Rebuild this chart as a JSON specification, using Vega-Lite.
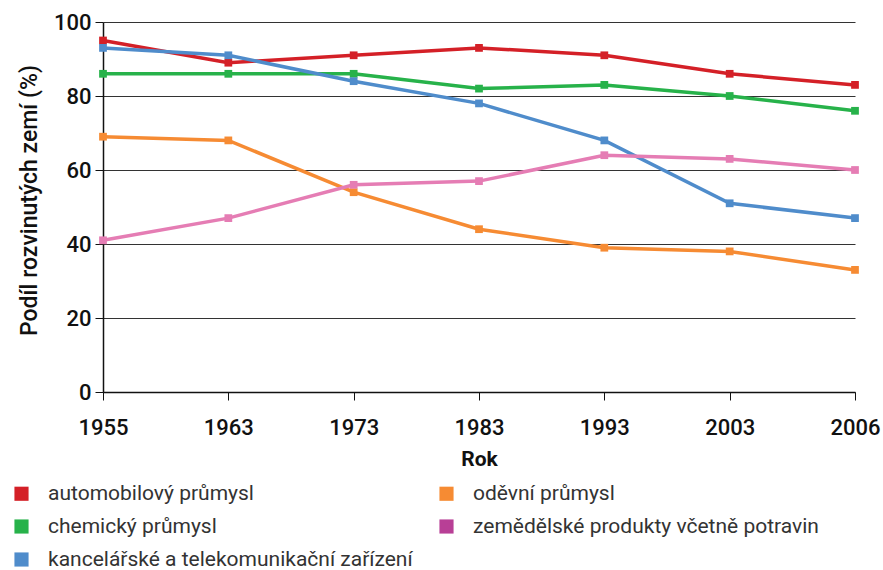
{
  "$schema": "https://vega.github.io/schema/vega-lite/v6.json",
  "width": 752,
  "height": 370,
  "autosize": {"type": "none"},
  "padding": {"left": 103, "top": 22, "right": 28, "bottom": 178},
  "background": "white",
  "config": {
    "font": "Roboto",
    "view": {"stroke": null},
    "axis": {"labelFont": "Roboto", "titleFont": "Roboto"}
  },
  "data": {
    "values": [
      {"rok": "1955", "serie": "automobilový průmysl", "podil": 95},
      {"rok": "1963", "serie": "automobilový průmysl", "podil": 89},
      {"rok": "1973", "serie": "automobilový průmysl", "podil": 91},
      {"rok": "1983", "serie": "automobilový průmysl", "podil": 93},
      {"rok": "1993", "serie": "automobilový průmysl", "podil": 91},
      {"rok": "2003", "serie": "automobilový průmysl", "podil": 86},
      {"rok": "2006", "serie": "automobilový průmysl", "podil": 83},
      {"rok": "1955", "serie": "chemický průmysl", "podil": 86},
      {"rok": "1963", "serie": "chemický průmysl", "podil": 86},
      {"rok": "1973", "serie": "chemický průmysl", "podil": 86},
      {"rok": "1983", "serie": "chemický průmysl", "podil": 82},
      {"rok": "1993", "serie": "chemický průmysl", "podil": 83},
      {"rok": "2003", "serie": "chemický průmysl", "podil": 80},
      {"rok": "2006", "serie": "chemický průmysl", "podil": 76},
      {"rok": "1955", "serie": "kancelářské a telekomunikační zařízení", "podil": 93},
      {"rok": "1963", "serie": "kancelářské a telekomunikační zařízení", "podil": 91},
      {"rok": "1973", "serie": "kancelářské a telekomunikační zařízení", "podil": 84},
      {"rok": "1983", "serie": "kancelářské a telekomunikační zařízení", "podil": 78},
      {"rok": "1993", "serie": "kancelářské a telekomunikační zařízení", "podil": 68},
      {"rok": "2003", "serie": "kancelářské a telekomunikační zařízení", "podil": 51},
      {"rok": "2006", "serie": "kancelářské a telekomunikační zařízení", "podil": 47},
      {"rok": "1955", "serie": "oděvní průmysl", "podil": 69},
      {"rok": "1963", "serie": "oděvní průmysl", "podil": 68},
      {"rok": "1973", "serie": "oděvní průmysl", "podil": 54},
      {"rok": "1983", "serie": "oděvní průmysl", "podil": 44},
      {"rok": "1993", "serie": "oděvní průmysl", "podil": 39},
      {"rok": "2003", "serie": "oděvní průmysl", "podil": 38},
      {"rok": "2006", "serie": "oděvní průmysl", "podil": 33},
      {"rok": "1955", "serie": "zemědělské produkty včetně potravin", "podil": 41},
      {"rok": "1963", "serie": "zemědělské produkty včetně potravin", "podil": 47},
      {"rok": "1973", "serie": "zemědělské produkty včetně potravin", "podil": 56},
      {"rok": "1983", "serie": "zemědělské produkty včetně potravin", "podil": 57},
      {"rok": "1993", "serie": "zemědělské produkty včetně potravin", "podil": 64},
      {"rok": "2003", "serie": "zemědělské produkty včetně potravin", "podil": 63},
      {"rok": "2006", "serie": "zemědělské produkty včetně potravin", "podil": 60}
    ]
  },
  "mark": {
    "type": "line",
    "strokeWidth": 3.5,
    "point": {"shape": "square", "size": 60, "filled": true}
  },
  "encoding": {
    "x": {
      "field": "rok",
      "type": "ordinal",
      "scale": {"type": "point", "padding": 0},
      "sort": null,
      "axis": {
        "title": "Rok",
        "titleFontSize": 21,
        "titleFontWeight": "bold",
        "titleColor": "#111",
        "titlePadding": 10,
        "labelAngle": 0,
        "labelFontSize": 22,
        "labelFontWeight": 500,
        "labelColor": "#111",
        "labelPadding": 17,
        "tickSize": 8,
        "tickColor": "#111",
        "domainColor": "#111",
        "domainWidth": 1.5,
        "grid": false
      }
    },
    "y": {
      "field": "podil",
      "type": "quantitative",
      "scale": {"domain": [0, 100], "nice": false},
      "axis": {
        "title": "Podíl rozvinutých zemí (%)",
        "titleFontSize": 23,
        "titleFontWeight": 500,
        "titleColor": "#111",
        "titlePadding": 12,
        "titleY": 178,
        "values": [0, 20, 40, 60, 80, 100],
        "labelFontSize": 22,
        "labelFontWeight": 500,
        "labelColor": "#111",
        "labelPadding": 4,
        "tickSize": 8,
        "tickColor": "#111",
        "domainColor": "#111",
        "domainWidth": 1.5,
        "grid": true,
        "gridColor": "#333",
        "gridWidth": 1
      }
    },
    "color": {
      "condition": {
        "test": "datum.serie === 'zemědělské produkty včetně potravin'",
        "value": "#e57db4"
      },
      "field": "serie",
      "type": "nominal",
      "scale": {
        "domain": [
          "automobilový průmysl",
          "oděvní průmysl",
          "chemický průmysl",
          "zemědělské produkty včetně potravin",
          "kancelářské a telekomunikační zařízení"
        ],
        "range": ["#d42027", "#f68b33", "#27b24a", "#b83f96", "#4f8ccb"]
      },
      "legend": {
        "title": null,
        "orient": "none",
        "legendX": -92,
        "legendY": 461,
        "direction": "horizontal",
        "columns": 2,
        "symbolType": "square",
        "symbolSize": 200,
        "symbolStrokeWidth": 0,
        "symbolOpacity": 1,
        "labelFontSize": 21,
        "labelColor": "#333",
        "labelOffset": 16,
        "labelLimit": 500,
        "rowPadding": 11,
        "columnPadding": 23
      }
    }
  }
}
